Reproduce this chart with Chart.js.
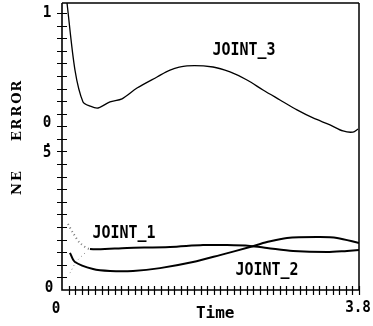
<!DOCTYPE html>
<html>
<head>
<meta charset="utf-8">
<script src="https://cdn.jsdelivr.net/npm/chart.js@4.4.1/dist/chart.umd.min.js"></script>
<style>
  html, body { margin: 0; padding: 0; background: #fff; }
  #wrap { width: 373px; height: 326px; position: relative; }
</style>
</head>
<body>
<div id="wrap"><canvas id="c"></canvas></div>
<script>
// ---- data ----
const joint3X = [0.064, 0.166, 0.269, 0.358, 0.461, 0.614, 0.768, 0.960, 1.216, 1.382, 1.599, 1.932, 2.150, 2.367, 2.572, 2.789, 3.007, 3.212, 3.429, 3.595, 3.723, 3.787];
const joint3Y = [1.036, 0.794, 0.679, 0.664, 0.657, 0.679, 0.690, 0.729, 0.769, 0.794, 0.809, 0.805, 0.787, 0.758, 0.722, 0.686, 0.650, 0.621, 0.596, 0.574, 0.570, 0.581];

const joint1X = [0.077, 0.141, 0.230, 0.358, 0.832, 1.382, 1.804, 2.111, 2.405, 2.623, 2.956, 3.391, 3.647, 3.800];
const joint1Y = [0.238, 0.206, 0.170, 0.148, 0.152, 0.155, 0.162, 0.162, 0.159, 0.152, 0.141, 0.137, 0.141, 0.144];

const joint2X = [0.102, 0.166, 0.397, 0.614, 0.909, 1.254, 1.676, 2.022, 2.405, 2.623, 2.879, 3.301, 3.519, 3.800];
const joint2Y = [0.134, 0.101, 0.076, 0.069, 0.069, 0.079, 0.101, 0.126, 0.155, 0.173, 0.188, 0.191, 0.188, 0.170];

const transientX = [0.102, 0.179, 0.307];
const transientY = [0.061, 0.101, 0.137];

const seriesNames = ['JOINT_3', 'JOINT_1', 'JOINT_2'];
const xTickLabels = ['0', '3.8'];
const xTickValues = [0, 3.8];
const yTickLabels = ['1', '0.5', '0'];
const yTickValues = [1, 0.5, 0];
const xMinorCount = 45;
const yMinorCount = 22;
const xTitle = 'Time';
const yTitle = 'NE ERROR';

const pts = (xs, ys) => xs.map((x, i) => ({ x: x, y: ys[i] }));

const decor = {
  id: 'decor',
  afterDraw(chart) {
    const ctx = chart.ctx;
    const xs = chart.scales.x, ys = chart.scales.y;
    const a = chart.chartArea;
    const x0 = xs.getPixelForValue(0), y0 = ys.getPixelForValue(0);
    ctx.save();
    ctx.strokeStyle = '#000';
    // frame
    ctx.lineWidth = 1.5;
    ctx.beginPath();
    ctx.moveTo(a.left, a.top); ctx.lineTo(a.right, a.top);
    ctx.moveTo(a.right, a.top); ctx.lineTo(a.right, a.bottom);
    ctx.stroke();
    ctx.lineWidth = 1.6;
    ctx.beginPath();
    ctx.moveTo(x0, a.top); ctx.lineTo(x0, y0);
    ctx.lineTo(a.right, y0);
    ctx.stroke();
    // crossing tick marks
    ctx.lineWidth = 1.2;
    ctx.beginPath();
    for (let i = 1; i <= xMinorCount; i++) {
      const px = Math.round(xs.getPixelForValue(3.8 * i / xMinorCount)) + 0.5;
      ctx.moveTo(px, y0 - 4); ctx.lineTo(px, y0 + 5);
    }
    for (let i = 1; i <= yMinorCount; i++) {
      const py = Math.round(ys.getPixelForValue(i / yMinorCount)) + 0.5;
      ctx.moveTo(x0 - 5, py); ctx.lineTo(x0 + 5, py);
    }
    ctx.stroke();

    ctx.fillStyle = '#000';
    ctx.textAlign = 'center';
    ctx.textBaseline = 'middle';
    const txt = (s, x, y, size, sx, family) => {
      ctx.save();
      ctx.font = 'bold ' + size + 'px ' + (family || '"DejaVu Sans Mono"');
      ctx.translate(x, y);
      ctx.scale(sx, 1);
      ctx.fillText(s, 0, 0);
      ctx.restore();
    };
    // x tick labels
    txt(xTickLabels[0], xs.getPixelForValue(xTickValues[0]) - 6, y0 + 19, 15, 0.95);
    txt(xTickLabels[1], xs.getPixelForValue(xTickValues[1]) - 1, y0 + 18, 15, 0.95);
    // y tick labels
    txt(yTickLabels[0], x0 - 15, ys.getPixelForValue(yTickValues[0]), 15, 0.95);
    const mid = ys.getPixelForValue(yTickValues[1]);
    const parts = yTickLabels[1].split('');
    txt(parts[0], x0 - 15, mid - 28, 15, 0.95);
    txt(parts[1], x0 - 14, mid - 9, 15, 0.95);
    txt(parts[2], x0 - 15, mid + 2, 15, 0.95);
    txt(yTickLabels[2], x0 - 13, ys.getPixelForValue(yTickValues[2]) - 2, 15, 0.95);
    // axis title
    txt(xTitle, xs.getPixelForValue(1.96), y0 + 24, 16, 1.0);
    // y title, letter by letter rotated
    ctx.save();
    ctx.translate(18, 0);
    ctx.rotate(-Math.PI / 2);
    ctx.font = 'bold 13px "DejaVu Serif"';
    const letters = [['N', 189], ['E', 176], ['E', 136], ['R', 124], ['R', 111], ['O', 98], ['R', 86]];
    letters.forEach(([c, p]) => ctx.fillText(c, -p, 0));
    ctx.restore();
    // series labels
    txt(seriesNames[0], xs.getPixelForValue(2.329), ys.getPixelForValue(0.863), 17, 0.88);
    txt(seriesNames[1], xs.getPixelForValue(0.793), ys.getPixelForValue(0.202), 17, 0.88);
    txt(seriesNames[2], xs.getPixelForValue(2.623), ys.getPixelForValue(0.069), 17, 0.88);
    ctx.restore();
  }
};

new Chart(document.getElementById('c'), {
  type: 'scatter',
  data: {
    datasets: [
      { label: seriesNames[0], data: pts(joint3X, joint3Y), showLine: true, borderColor: '#000', borderWidth: 1.3, pointRadius: 0, tension: 0.3 },
      { label: seriesNames[1], data: pts(joint1X, joint1Y), showLine: true, borderColor: '#000', borderWidth: 2, pointRadius: 0, tension: 0.3,
        segment: {
          borderDash: c => c.p1DataIndex <= 3 ? [1, 3] : undefined,
          borderColor: c => c.p1DataIndex <= 3 ? '#777' : undefined
        } },
      { label: seriesNames[2], data: pts(joint2X, joint2Y), showLine: true, borderColor: '#000', borderWidth: 2, pointRadius: 0, tension: 0.3 },
      { label: 'transient', data: pts(transientX, transientY), showLine: true, borderColor: '#888', borderWidth: 1, borderDash: [1, 3], pointRadius: 0, tension: 0.2 }
    ]
  },
  options: {
    responsive: true,
    maintainAspectRatio: false,
    animation: false,
    layout: { padding: { left: 62, right: 14, top: 3, bottom: 36 } },
    plugins: { legend: { display: false }, tooltip: { enabled: false } },
    scales: {
      x: { type: 'linear', min: 0, max: 3.8, display: false },
      y: { type: 'linear', min: 0, max: 1.036, display: false }
    }
  },
  plugins: [decor]
});
</script>
</body>
</html>
